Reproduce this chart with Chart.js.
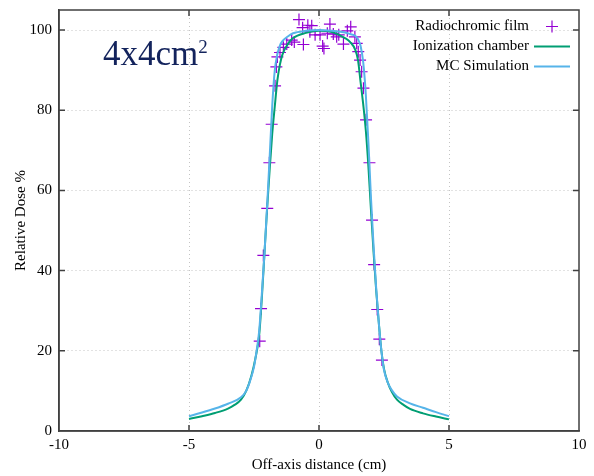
<!DOCTYPE html>
<html>
<head>
<meta charset="utf-8">
<title>Perfil 4x4</title>
<script src="https://cdn.jsdelivr.net/npm/chart.js@4.4.1/dist/chart.umd.min.js"></script>
<style>
  html, body { margin: 0; padding: 0; background: #fff; }
  #wrap { position: relative; width: 594px; height: 476px; }
  #fieldLabel {
    position: absolute; left: 103px; top: 36px;
    font-family: "Liberation Serif", serif; font-size: 35px; line-height: 35px;
    color: #13235c; white-space: nowrap;
  }
  #fieldLabel span { font-size: 19px; position: relative; top: -12px; }
</style>
</head>
<body>
<div id="wrap">
  <canvas id="doseChart" width="594" height="476"></canvas>
  <div id="fieldLabel">4x4cm<span>2</span></div>
</div>
<script>
// Datos
const xTicks = [-10, -5, 0, 5, 10];
const yTicks = [0, 20, 40, 60, 80, 100];

const filmX = [-2.28, -2.23, -2.14, -1.99, -1.91, -1.82, -1.69, -1.64, -1.60, -1.50,
  -1.37, -1.24, -1.05, -0.95, -0.77, -0.63, -0.60, -0.43, -0.35, -0.28,
  -0.15, 0.04, 0.14, 0.19, 0.32, 0.42, 0.55, 0.68, 0.76, 0.94,
  1.09, 1.22, 1.38, 1.45, 1.51, 1.58, 1.64, 1.71, 1.81, 1.94,
  2.04, 2.12, 2.24, 2.32, 2.42];
const filmY = [22.4, 30.5, 43.8, 55.5, 66.9, 76.5, 86.1, 90.8, 93.3, 94.4,
  95.7, 96.5, 97.5, 97.0, 102.6, 100.6, 96.4, 101.2, 99.6, 101.1,
  98.8, 98.8, 96.0, 95.4, 99.2, 101.5, 99.0, 98.3, 98.8, 96.5,
  99.8, 100.8, 98.3, 96.7, 94.6, 92.5, 89.6, 85.5, 77.6, 66.9,
  52.6, 41.5, 30.3, 22.9, 17.7];

const chamberX = [-5, -4.5, -4, -3.5, -3.25, -3, -2.8, -2.6, -2.45, -2.3,
  -2.2, -2.1, -2, -1.9, -1.8, -1.7, -1.6, -1.5, -1.4, -1.2,
  -1, -0.5, 0, 0.5, 1, 1.2, 1.4, 1.5, 1.6, 1.7,
  1.8, 1.9, 2, 2.1, 2.2, 2.3, 2.4, 2.5, 2.65, 2.8,
  3, 3.25, 3.5, 4, 4.5, 5];
const chamberY = [3.0, 3.7, 4.5, 5.6, 6.5, 7.8, 10.0, 13.8, 18, 24,
  33, 44, 55, 65, 74, 81, 87.5, 91.5, 94, 96.5,
  98, 99.3, 99.8, 99.5, 98, 97, 95, 92.5, 87, 81.5,
  75, 66, 55, 44.5, 35, 27, 20, 15.5, 12, 9.8,
  7.8, 6.5, 5.5, 4.4, 3.6, 2.9];

const mcX = [-5, -4.5, -4, -3.5, -3, -2.8, -2.65, -2.5, -2.4, -2.3,
  -2.2, -2.1, -2, -1.9, -1.8, -1.7, -1.6, -1.5, -1.4, -1.2,
  -1, -0.5, 0, 0.5, 1, 1.2, 1.4, 1.5, 1.6, 1.7,
  1.8, 1.9, 2, 2.1, 2.2, 2.3, 2.4, 2.5, 2.65, 2.8,
  3, 3.5, 4, 4.5, 5];
const mcY = [3.7, 4.6, 5.6, 6.8, 8.4, 10.0, 12.5, 16, 20, 25,
  34, 44, 55.5, 68, 81, 90, 94, 96.2, 97.3, 98.4,
  99.2, 99.8, 100, 99.8, 99.4, 99, 98.5, 97.7, 96, 92,
  84, 72, 58, 46, 35.5, 27, 20, 15.2, 12, 10.2,
  8.6, 6.9, 5.8, 4.7, 3.7];

const toPoints = (xs, ys) => xs.map((x, i) => ({ x: x, y: ys[i] }));

const FONT = '"Liberation Serif", "Times New Roman", serif';
const FRAME = '#404040';

// Marco completo + marcas hacia dentro (estilo gnuplot)
const framePlugin = {
  id: 'frame',
  afterDraw(chart) {
    const { ctx, chartArea: a, scales } = chart;
    ctx.save();
    ctx.strokeStyle = FRAME;
    ctx.lineWidth = 1.5;
    ctx.strokeRect(a.left, a.top, a.right - a.left, a.bottom - a.top);
    ctx.beginPath();
    xTicks.slice(1, -1).forEach(v => {
      const px = scales.x.getPixelForValue(v);
      ctx.moveTo(px, a.bottom); ctx.lineTo(px, a.bottom - 6);
      ctx.moveTo(px, a.top); ctx.lineTo(px, a.top + 6);
    });
    yTicks.slice(1).forEach(v => {
      const py = scales.y.getPixelForValue(v);
      ctx.moveTo(a.left, py); ctx.lineTo(a.left + 6, py);
      ctx.moveTo(a.right, py); ctx.lineTo(a.right - 6, py);
    });
    ctx.stroke();
    ctx.restore();
  }
};

// Leyenda dentro del grafico, texto alineado a la derecha
const keyPlugin = {
  id: 'gnuKey',
  afterDraw(chart) {
    const { ctx, chartArea: a } = chart;
    ctx.save();
    ctx.font = '15px ' + FONT;
    ctx.textAlign = 'right';
    ctx.textBaseline = 'middle';
    chart.data.datasets.forEach((ds, i) => {
      const y = a.top + 16.5 + i * 20;
      ctx.fillStyle = '#000';
      ctx.fillText(ds.label, a.right - 50, y);
      ctx.strokeStyle = ds.borderColor;
      ctx.beginPath();
      if (ds.showLine) {
        ctx.lineWidth = 2;
        ctx.moveTo(a.right - 45, y); ctx.lineTo(a.right - 9, y);
      } else {
        const cx = a.right - 27;
        ctx.lineWidth = 1.2;
        ctx.moveTo(cx - 6, y); ctx.lineTo(cx + 6, y);
        ctx.moveTo(cx, y - 6); ctx.lineTo(cx, y + 6);
      }
      ctx.stroke();
    });
    ctx.restore();
  }
};

const gridColor = (ctx) => {
  const v = ctx.tick ? ctx.tick.value : null;
  if (v === null) return 'rgba(0,0,0,0)';
  if (ctx.scale.axis === 'x' && (v === -10 || v === 10)) return 'rgba(0,0,0,0)';
  if (ctx.scale.axis === 'y' && v === 0) return 'rgba(0,0,0,0)';
  return '#c4c4c4';
};

new Chart(document.getElementById('doseChart').getContext('2d'), {
  type: 'scatter',
  data: {
    datasets: [
      {
        label: 'Radiochromic film',
        data: toPoints(filmX, filmY),
        showLine: false,
        pointStyle: 'cross',
        pointRadius: 6,
        pointBorderWidth: 1.2,
        borderColor: '#9400d3',
        backgroundColor: '#9400d3',
        order: 2
      },
      {
        label: 'Ionization chamber',
        data: toPoints(chamberX, chamberY),
        showLine: true,
        pointRadius: 0,
        borderWidth: 2,
        borderColor: '#009e73',
        cubicInterpolationMode: 'monotone',
        order: 1
      },
      {
        label: 'MC Simulation',
        data: toPoints(mcX, mcY),
        showLine: true,
        pointRadius: 0,
        borderWidth: 2,
        borderColor: '#56b4e9',
        cubicInterpolationMode: 'monotone',
        order: 0
      }
    ]
  },
  options: {
    responsive: false,
    animation: false,
    layout: { padding: { top: 10, right: 15, left: 0, bottom: 0 } },
    plugins: {
      legend: { display: false },
      tooltip: { enabled: false }
    },
    scales: {
      x: {
        type: 'linear',
        min: -10, max: 10,
        afterBuildTicks: (scale) => { scale.ticks = xTicks.map(v => ({ value: v })); },
        afterFit: (scale) => { scale.height = 45; },
        ticks: { color: '#000', padding: 5, font: { family: FONT, size: 15 } },
        grid: { color: gridColor, drawTicks: false, lineWidth: 1 },
        border: { display: true, color: FRAME, width: 1.5, dash: [1, 3] },
        title: {
          display: true, text: 'Off-axis distance (cm)', color: '#000',
          font: { family: FONT, size: 15 }, padding: { top: 0, bottom: 2 }
        }
      },
      y: {
        type: 'linear',
        min: 0, max: 105,
        afterBuildTicks: (scale) => { scale.ticks = yTicks.map(v => ({ value: v })); },
        afterFit: (scale) => {
          scale.width = 59;
          scale.paddingTop = 0;
          scale.paddingBottom = 0;
        },
        ticks: { color: '#000', padding: 7, font: { family: FONT, size: 15 } },
        grid: { color: gridColor, drawTicks: false, lineWidth: 1 },
        border: { display: true, color: FRAME, width: 1.5, dash: [1, 3] },
        title: {
          display: true, text: 'Relative Dose %', color: '#000',
          font: { family: FONT, size: 15 }, padding: { top: 12, bottom: 0 }
        }
      }
    }
  },
  plugins: [framePlugin, keyPlugin]
});
</script>
</body>
</html>
